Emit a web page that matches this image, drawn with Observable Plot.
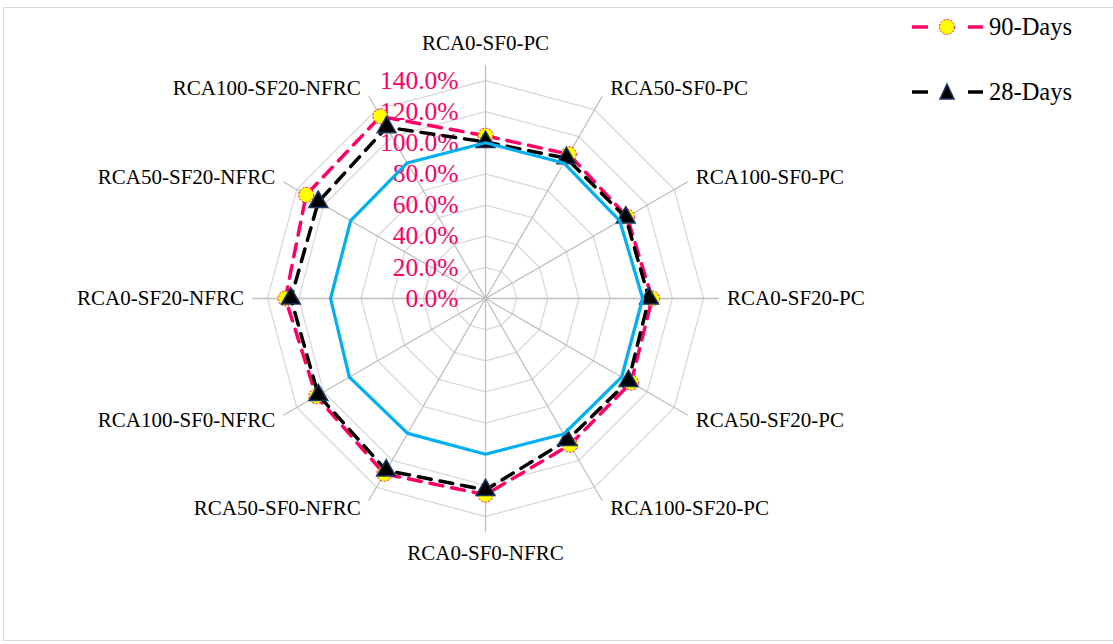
<!DOCTYPE html>
<html>
<head>
<meta charset="utf-8">
<script src="https://cdn.jsdelivr.net/npm/d3@7"></script>
<script src="https://cdn.jsdelivr.net/npm/@observablehq/plot@0.6"></script>
<style>
  html, body { margin: 0; padding: 0; background: #fff; }
  #wrap { position: relative; width: 1113px; height: 644px; overflow: hidden; font-family: "Liberation Serif", "Times New Roman", serif; }
  #frame { position: absolute; left: 3px; top: 7px; width: 1120px; height: 634px; border: 1px solid #d9d9d9; box-sizing: border-box; }
  #chart { position: absolute; left: 0; top: 0; }
  .leg { position: absolute; left: 908px; display: flex; align-items: center; font-size: 24.5px; color: #000; }
  .leg svg { margin-right: 3px; }
</style>
</head>
<body>
<div id="wrap">
  <div id="frame"></div>
  <div id="chart"></div>
  <div class="leg" style="top:12px">
    <svg width="78" height="30"><line x1="4" y1="15" x2="20" y2="15" stroke="#FF0066" stroke-width="3.5"/><circle cx="39" cy="15" r="7.5" fill="#FFFF00" stroke="#FF0066" stroke-width="1" stroke-dasharray="2,1.5"/><line x1="60" y1="15" x2="75" y2="15" stroke="#FF0066" stroke-width="3.5"/></svg>
    <span>90-Days</span>
  </div>
  <div class="leg" style="top:77px">
    <svg width="78" height="30"><line x1="4" y1="15" x2="20" y2="15" stroke="#000" stroke-width="3.5"/><path d="M39,7 L46,22 L32,22 Z" fill="#000" stroke="#1F3864" stroke-width="1.5"/><line x1="60" y1="15" x2="75" y2="15" stroke="#000" stroke-width="3.5"/></svg>
    <span>28-Days</span>
  </div>
</div>
<script>
// ---- data ----
const categories = [
  "RCA0-SF0-PC", "RCA50-SF0-PC", "RCA100-SF0-PC", "RCA0-SF20-PC",
  "RCA50-SF20-PC", "RCA100-SF20-PC", "RCA0-SF0-NFRC", "RCA50-SF0-NFRC",
  "RCA100-SF0-NFRC", "RCA0-SF20-NFRC", "RCA50-SF20-NFRC", "RCA100-SF20-NFRC"
];
const days90 = [104.5, 107, 105, 107, 108, 108.5, 126, 130, 125.5, 128.5, 133, 135];
const days28 = [100.5, 104, 104, 105, 106, 105, 123, 127.5, 124, 125, 124, 127];
const reference = [100, 100.5, 99.6, 101, 101, 100.5, 100, 100, 101, 99.5, 100, 100.5];
const ringTicks = [0, 20, 40, 60, 80, 100, 120, 140];
const spokeMax = 150;

// ---- geometry helpers ----
const W = 1113, H = 644;
const cx = 485, cy = 298;       // pixel centre
const k = 218 / 140;            // px per percent
const n = categories.length;
const ang = i => (i / n) * 2 * Math.PI;
const px = (i, r) => r * Math.sin(ang(i));
const py = (i, r) => r * Math.cos(ang(i));

const series = (vals, name) => vals.map((v, i) => ({name, i, cat: categories[i], v, x: px(i, v), y: py(i, v)}));
const s90 = series(days90, "90-Days");
const s28 = series(days28, "28-Days");
const sRef = series(reference, "Reference");

const rings = ringTicks.filter(t => t > 0).flatMap(t => categories.map((c, i) => ({t, x: px(i, t), y: py(i, t)})));
const spokes = categories.map((c, i) => ({x1: 0, y1: 0, x2: px(i, spokeMax), y2: py(i, spokeMax)}));

const labels = categories.map((c, i) => {
  const s = Math.sin(ang(i)), co = Math.cos(ang(i));
  let anchor = "middle", ox = 0, oy = 0;
  if (Math.abs(s) < 0.01) { oy = co > 0 ? 22 : -21; }
  else { anchor = s > 0 ? "start" : "end"; ox = (s > 0 ? 8 : -8); oy = co * 9; }
  return {c, anchor, x: px(i, spokeMax) + ox / k, y: py(i, spokeMax) + oy / k};
});

const pink = "#FF0066";
const chart = Plot.plot({
  width: W, height: H,
  margin: 0,
  x: {domain: [-cx / k, (W - cx) / k], axis: null},
  y: {domain: [-(H - cy) / k, cy / k], axis: null},
  style: {fontFamily: "'Liberation Serif', 'Times New Roman', serif", background: "transparent"},
  marks: [
    Plot.line(rings, {x: "x", y: "y", z: "t", curve: "linear-closed", stroke: "#d9d9d9", strokeWidth: 1.3}),
    Plot.link(spokes, {x1: "x1", y1: "y1", x2: "x2", y2: "y2", stroke: "#bfbfbf", strokeWidth: 1.3}),
    Plot.text(ringTicks, {x: () => 0, y: d => d, text: d => d.toFixed(1) + "%", textAnchor: "end", dx: -27, fill: pink, fontSize: 25.5}),
    Plot.line(s90, {x: "x", y: "y", curve: "linear-closed", stroke: pink, strokeWidth: 3.5, strokeDasharray: "13,9"}),
    Plot.dot(s90, {x: "x", y: "y", r: 7.5, fill: "#FFFF00", stroke: pink, strokeWidth: 1, strokeDasharray: "2,1.5"}),
    Plot.line(s28, {x: "x", y: "y", curve: "linear-closed", stroke: "#000", strokeWidth: 3.5, strokeDasharray: "13,9"}),
    Plot.dot(s28, {x: "x", y: "y", r: 7, symbol: "triangle", fill: "#000", stroke: "#1F3864", strokeWidth: 1.5}),
    Plot.line(sRef, {x: "x", y: "y", curve: "linear-closed", stroke: "#00B0F0", strokeWidth: 3.2}),
    Plot.text(labels.filter(d => d.anchor === "middle"), {x: "x", y: "y", text: "c", textAnchor: "middle", fontSize: 21, fill: "#000"}),
    Plot.text(labels.filter(d => d.anchor === "start"), {x: "x", y: "y", text: "c", textAnchor: "start", fontSize: 21, fill: "#000"}),
    Plot.text(labels.filter(d => d.anchor === "end"), {x: "x", y: "y", text: "c", textAnchor: "end", fontSize: 21, fill: "#000"})
  ]
});
document.getElementById("chart").appendChild(chart);
</script>
</body>
</html>
